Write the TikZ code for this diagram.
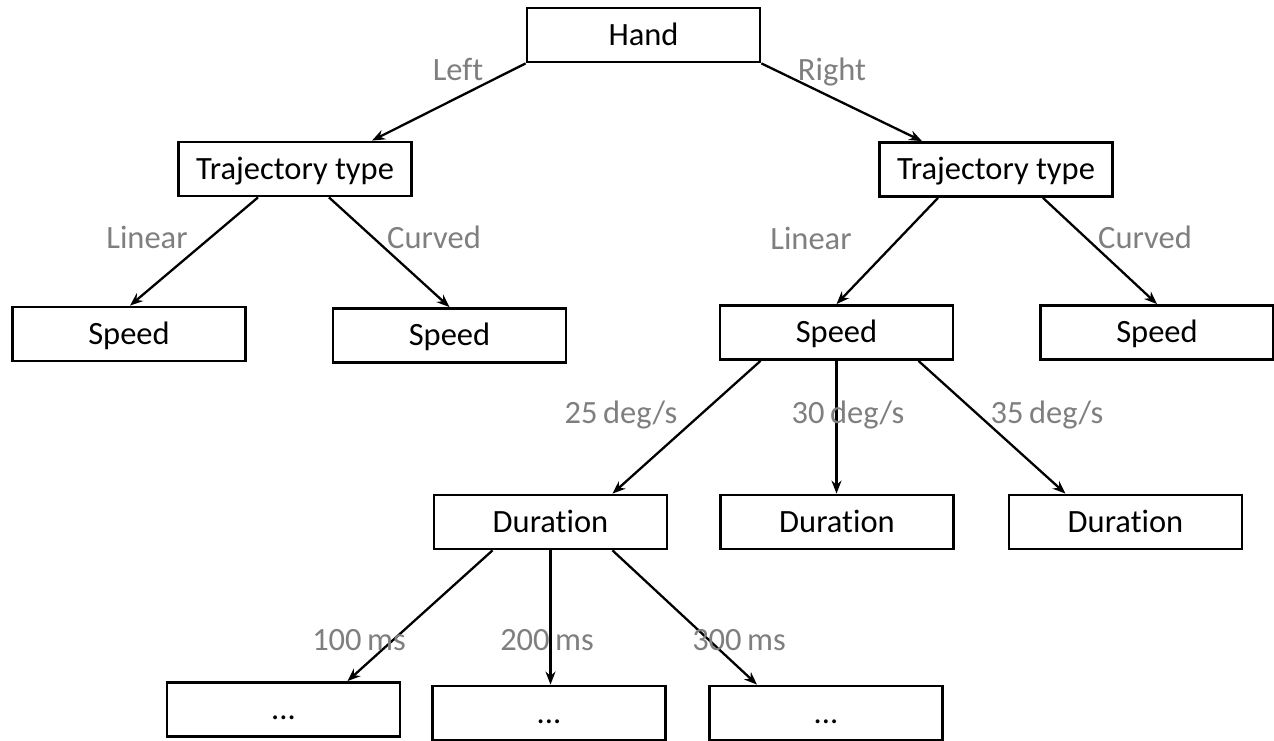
\documentclass[tikz,border=0pt]{standalone}
\usepackage{fontspec}
\setmainfont{Carlito}[Ligatures={NoCommon}]
\usetikzlibrary{arrows.meta,calc}
\definecolor{lblgray}{HTML}{7F7F7F}
\tikzset{
  txt/.style={font=\fontsize{32.5}{38}\selectfont, text height=24pt, text depth=3.2pt, inner sep=0pt},
  box/.style={txt, draw=black, line width=2.8pt, minimum width=233pt, minimum height=54pt},
  lbl/.style={txt, text=lblgray},
  conn/.style={line width=2.3pt, -{Stealth[length=13pt,width=10pt]}}
}
\begin{document}
\begin{tikzpicture}[x=1pt,y=-1pt]
\useasboundingbox (0,0) rectangle (1274,740);
% boxes
\node[box] (hand)  at (643.5,35)   {Hand};
\node[box] (ltraj) at (295,169)    {Trajectory type};
\node[box] (rtraj) at (996,169.5)  {Trajectory type};
\node[box] (s1)    at (129,334)    {Speed};
\node[box] (s2)    at (449.5,335.5){Speed};
\node[box] (s3)    at (836.5,332.5){Speed};
\node[box] (s4)    at (1157,332.5) {Speed};
\node[box] (d1)    at (550.5,522)  {Duration};
\node[box] (d2)    at (837,522)    {Duration};
\node[box] (d3)    at (1125.5,522) {Duration};
\node[box] (b1)    at (283.5,709.5){...};
\node[box] (b2)    at (549,713)    {...};
\node[box] (b3)    at (826,713)    {...};
% connectors
\draw[conn] (hand.south west) -- ([xshift=77pt]ltraj.north);
\draw[conn] (hand.south east) -- ([xshift=-74pt]rtraj.north);
\draw[conn] ([xshift=-37pt]ltraj.south) -- ([xshift=1pt]s1.north);
\draw[conn] ([xshift=34pt]ltraj.south) -- (s2.north);
\draw[conn] ([xshift=-58pt]rtraj.south) -- (s3.north);
\draw[conn] ([xshift=47pt]rtraj.south) -- (s4.north);
\draw[conn] ([xshift=-76pt]s3.south) -- ([xshift=62pt]d1.north);
\draw[conn] (s3.south) -- (s3.south |- d2.north);
\draw[conn] ([xshift=82pt]s3.south) -- ([xshift=-60pt]d3.north);
\draw[conn] ([xshift=-58pt]d1.south) -- ([xshift=64pt]b1.north);
\draw[conn] (d1.south) -- (d1.south |- b2.north);
\draw[conn] ([xshift=62pt]d1.south) -- ([xshift=-69pt]b3.north);
% labels
\node[lbl] (lLeft)   at (458,70)   {Left};
\node[lbl] (lRight)  at (832,70)   {Right};
\node[lbl] (lLin1)   at (147,238)  {Linear};
\node[lbl] (lCur1)   at (434,238)  {Curved};
\node[lbl] (lLin2)   at (811,239)  {Linear};
\node[lbl] (lCur2)   at (1145,238) {Curved};
\node[lbl] (l25)     at (621,413)  {25\,deg/s};
\node[lbl] (l30)     at (848,413)  {30\,deg/s};
\node[lbl] (l35)     at (1047,413) {35\,deg/s};
\node[lbl] (l100)    at (359,640)  {100\,ms};
\node[lbl] (l200)    at (547,640)  {200\,ms};
\node[lbl] (l300)    at (739,640)  {300\,ms};
\end{tikzpicture}
\end{document}
